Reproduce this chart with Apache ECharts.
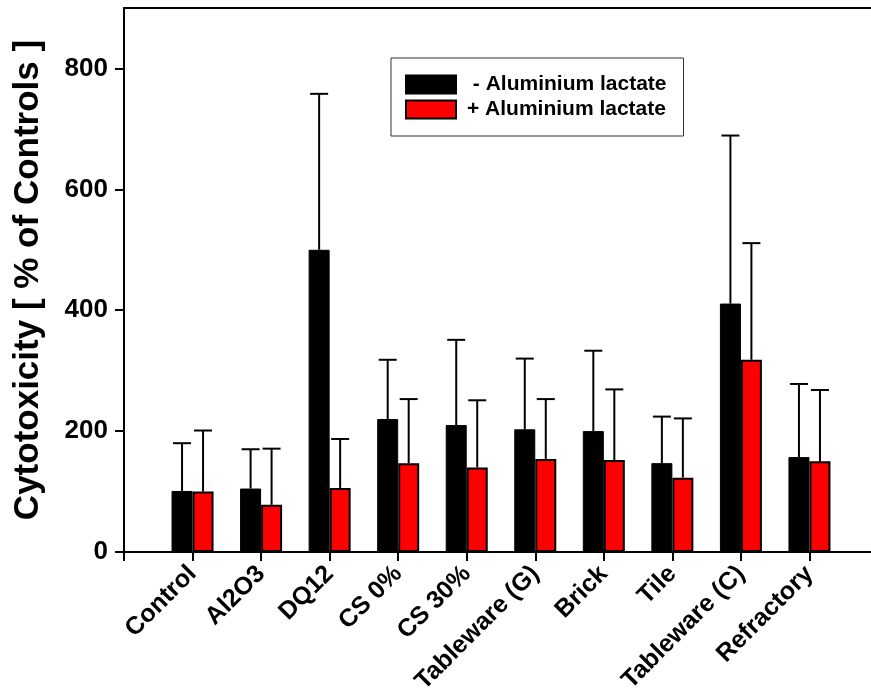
<!DOCTYPE html>
<html>
<head>
<meta charset="utf-8">
<script src="https://cdn.jsdelivr.net/npm/echarts@6/dist/echarts.min.js"></script>
<style>
  html, body { margin: 0; padding: 0; background: #fff; }
  #chart { width: 871px; height: 700px; }
</style>
</head>
<body>
<div id="chart"></div>
<script>
  // 数据
  const categories = ['Control', 'Al2O3', 'DQ12', 'CS 0%', 'CS 30%', 'Tableware (G)', 'Brick', 'Tile', 'Tableware (C)', 'Refractory'];
  const withoutMean = [101, 105, 500, 220, 210, 203, 200, 147, 411, 157];
  const withoutSd = [79, 65, 258, 98, 141, 117, 133, 77, 278, 121];
  const withMean = [100, 78, 106, 147, 140, 154, 152, 123, 318, 150];
  const withSd = [101, 93, 81, 106, 111, 99, 117, 98, 193, 118];
  const yTicks = [0, 200, 400, 600, 800];

  const FONT = 'Liberation Sans';
  const BAR_W = 21;

  // 首尾各留一个空位
  const pad = (arr) => [null, ...arr, null];

  const errorSeries = (mean, sd, offset) => ({
    type: 'custom',
    z: 5,
    silent: true,
    data: mean.map((m, i) => [i + 1, m, m + sd[i]]),
    renderItem: (params, api) => {
      const base = api.coord([api.value(0), api.value(1)]);
      const top = api.coord([api.value(0), api.value(2)]);
      const x = base[0] + offset;
      const style = { stroke: '#000', lineWidth: 2 };
      return {
        type: 'group',
        children: [
          { type: 'line', shape: { x1: x, y1: base[1], x2: x, y2: top[1] }, style },
          { type: 'line', shape: { x1: x - 9, y1: top[1], x2: x + 9, y2: top[1] }, style },
        ],
      };
    },
  });

  const chart = echarts.init(document.getElementById('chart'));
  chart.setOption({
    animation: false,
    backgroundColor: '#fff',
    textStyle: { fontFamily: FONT },
    grid: {
      left: 124,
      top: 8,
      width: 754,
      height: 544,
      show: true,
      borderColor: '#000',
      borderWidth: 2,
      containLabel: false,
      outerBoundsMode: 'none',
    },
    legend: {
      left: 391,
      top: 58,
      orient: 'vertical',
      itemWidth: 50,
      itemHeight: 18,
      itemGap: 4,
      padding: [16, 17, 16, 14],
      borderColor: '#333',
      borderWidth: 1,
      icon: 'rect',
      data: [' - Aluminium lactate', '+ Aluminium lactate'],
      textStyle: { fontFamily: FONT, fontWeight: 'bold', fontSize: 21, color: '#000', padding: [0, 0, 0, 6] },
    },
    xAxis: {
      type: 'category',
      boundaryGap: false,
      data: ['', ...categories, ''],
      axisLine: { lineStyle: { color: '#000', width: 2 } },
      axisTick: { length: 9, interval: 0, lineStyle: { color: '#000', width: 2 } },
      axisLabel: {
        interval: 0,
        rotate: 45,
        margin: 18,
        color: '#000',
        fontFamily: FONT,
        fontWeight: 'bold',
        fontSize: 25,
      },
      splitLine: { show: false },
    },
    yAxis: {
      type: 'value',
      min: 0,
      max: 900,
      name: 'Cytotoxicity [ % of Controls ]',
      nameLocation: 'middle',
      nameGap: 78,
      nameTextStyle: { color: '#000', fontFamily: FONT, fontWeight: 'bold', fontSize: 35 },
      axisLine: { show: true, lineStyle: { color: '#000', width: 2 } },
      axisTick: { show: true, length: 9, customValues: yTicks, lineStyle: { color: '#000', width: 2 } },
      axisLabel: { customValues: yTicks, margin: 16, color: '#000', fontFamily: FONT, fontWeight: 'bold', fontSize: 26 },
      splitLine: { show: false },
    },
    series: [
      {
        name: ' - Aluminium lactate',
        type: 'bar',
        data: pad(withoutMean),
        barWidth: BAR_W,
        barGap: '0%',
        itemStyle: { color: '#000', borderColor: '#000', borderWidth: 1 },
        z: 2,
      },
      {
        name: '+ Aluminium lactate',
        type: 'bar',
        data: pad(withMean),
        barWidth: BAR_W,
        barGap: '0%',
        itemStyle: { color: '#ff0000', borderColor: '#000', borderWidth: 2 },
        z: 2,
      },
      errorSeries(withoutMean, withoutSd, -BAR_W / 2),
      errorSeries(withMean, withSd, BAR_W / 2),
    ],
  });
</script>
</body>
</html>
